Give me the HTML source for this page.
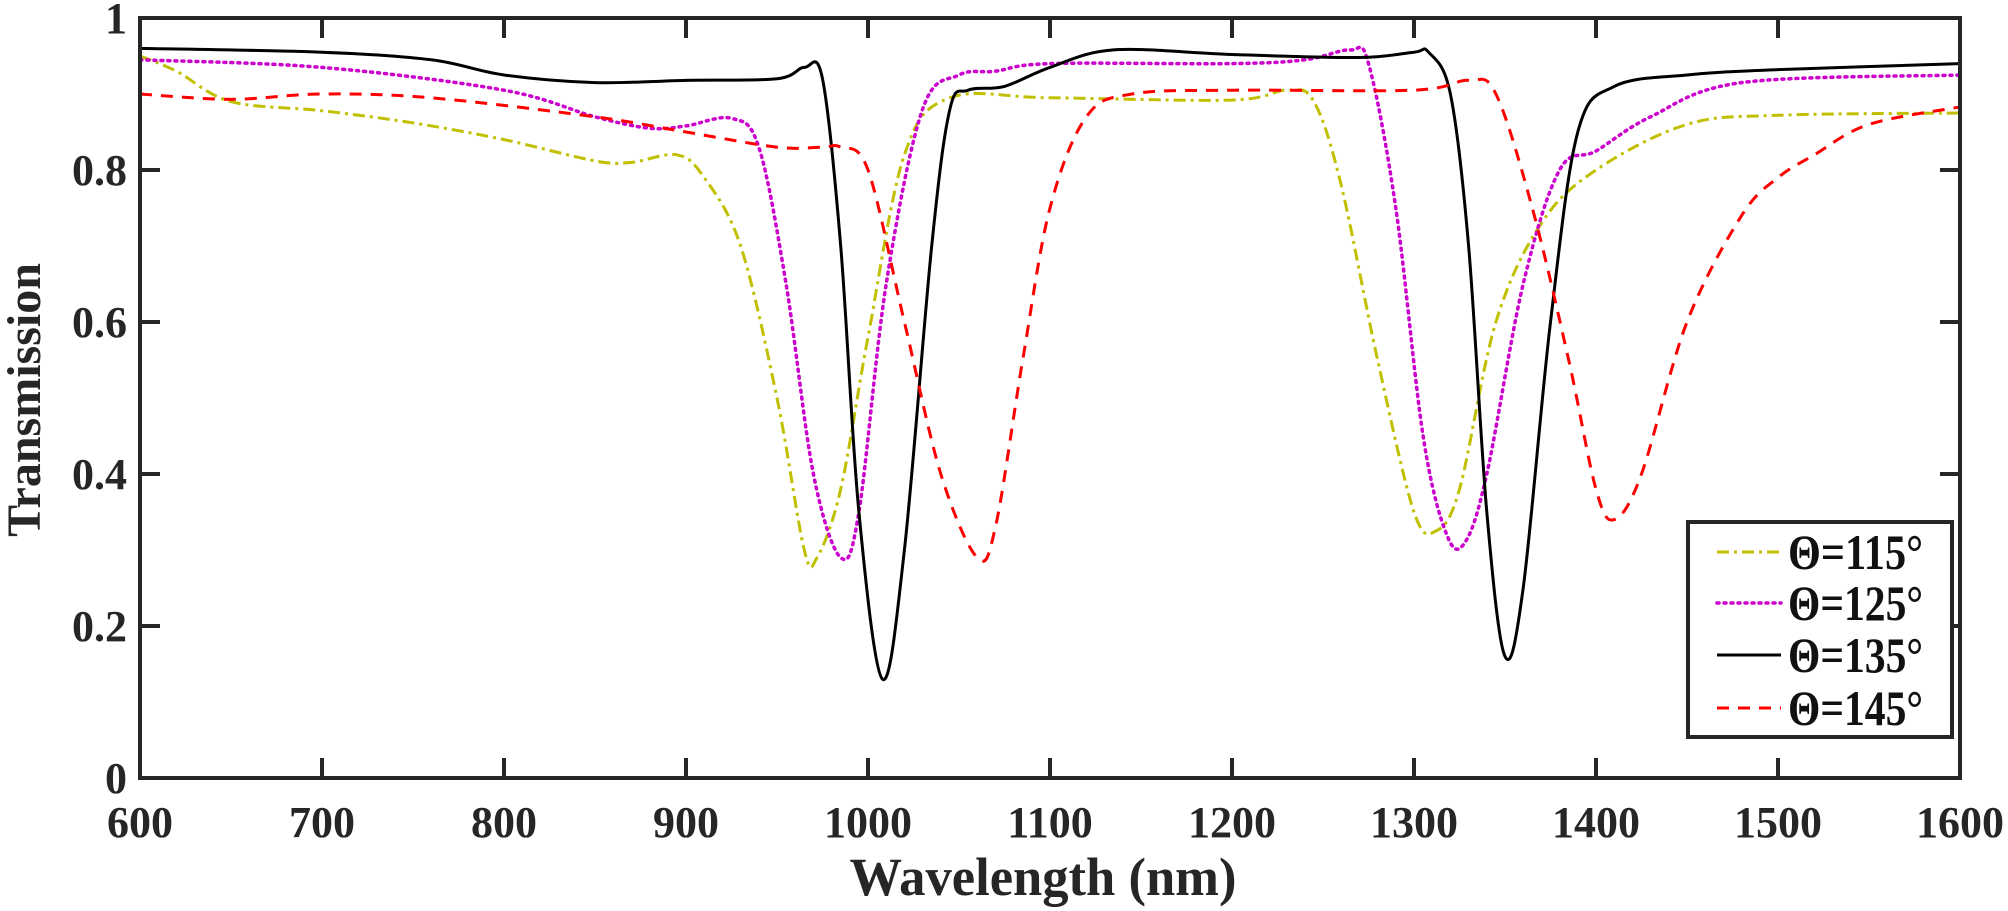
<!DOCTYPE html>
<html><head><meta charset="utf-8"><style>
html,body{margin:0;padding:0;background:#fff;}
svg{display:block;font-family:"Liberation Serif",serif;font-weight:bold;}
</style></head><body>
<svg id="s" width="2008" height="911" xmlns="http://www.w3.org/2000/svg">
<g id="curves" fill="none" stroke-linejoin="round"></g>
<rect x="140" y="18" width="1820" height="760" fill="none" stroke="#262626" stroke-width="4"/>
<g id="ticks" stroke="#262626" stroke-width="4"></g>
<g id="labels" fill="#262626" font-size="44"></g>
<text x="1043" y="895" font-size="54" text-anchor="middle" fill="#262626" textLength="387" lengthAdjust="spacingAndGlyphs">Wavelength (nm)</text>
<text transform="translate(40,400) rotate(-90)" font-size="48" text-anchor="middle" fill="#262626">Transmission</text>
<rect x="1688" y="522" width="264" height="215" fill="#fff" stroke="#262626" stroke-width="4"/>
<g font-size="50" fill="#111">
<line x1="1717" y1="552" x2="1781" y2="552" stroke="#c0c000" stroke-width="3" stroke-dasharray="12,5,3,5"/>
<text x="1788" y="569" textLength="135" lengthAdjust="spacingAndGlyphs">Θ=115°</text>
<line x1="1717" y1="603" x2="1781" y2="603" stroke="#cc00cc" stroke-width="3.5" stroke-dasharray="2,5" stroke-linecap="round"/>
<text x="1788" y="620" textLength="135" lengthAdjust="spacingAndGlyphs">Θ=125°</text>
<line x1="1717" y1="655" x2="1781" y2="655" stroke="#000" stroke-width="3"/>
<text x="1788" y="672" textLength="135" lengthAdjust="spacingAndGlyphs">Θ=135°</text>
<line x1="1717" y1="708" x2="1781" y2="708" stroke="#ff0000" stroke-width="3" stroke-dasharray="12,9"/>
<text x="1788" y="725" textLength="135" lengthAdjust="spacingAndGlyphs">Θ=145°</text>
</g>
</svg>
<script>
var NS="http://www.w3.org/2000/svg";
function X(l){return 140+(l-600)*1.82;}
function Y(t){return 778-t*760;}
var ticks=document.getElementById('ticks'),labels=document.getElementById('labels');
function el(p,tag,a,txt){var e=document.createElementNS(NS,tag);for(var k in a)e.setAttribute(k,a[k]);if(txt)e.textContent=txt;p.appendChild(e);}
for(var l=600;l<=1600;l+=100){var x=X(l);
 if(l>600&&l<1600){el(ticks,'line',{x1:x,y1:778,x2:x,y2:758});el(ticks,'line',{x1:x,y1:18,x2:x,y2:38});}
 el(labels,'text',{x:x,y:837,'text-anchor':'middle'},String(l));}
var yl=['0','0.2','0.4','0.6','0.8','1'];
for(var i=0;i<=5;i++){var y=Y(i*0.2);
 if(i>0&&i<5){el(ticks,'line',{x1:140,y1:y,x2:160,y2:y});el(ticks,'line',{x1:1960,y1:y,x2:1940,y2:y});}
 el(labels,'text',{x:127,y:y+15,'text-anchor':'end'},yl[i]);}
var data={
k:[[600,.96],[700,.955],[760,.945],[800,.925],[850,.915],[900,.918],[950,.92],[965,.935],[975,.92],[985,.7],[995,.35],[1008,.13],[1020,.3],[1035,.7],[1045,.88],[1055,.905],[1075,.91],[1100,.935],[1135,.958],[1200,.952],[1270,.948],[1300,.955],[1308,.955],[1320,.9],[1330,.7],[1340,.35],[1350,.16],[1360,.25],[1375,.6],[1390,.85],[1410,.91],[1450,.925],[1500,.932],[1600,.94]],
m:[[600,.945],[700,.935],[800,.905],[850,.87],[880,.855],[900,.858],[925,.868],[940,.83],[955,.65],[970,.4],[985,.29],[995,.35],[1010,.65],[1030,.88],[1050,.925],[1070,.93],[1100,.94],[1200,.94],[1240,.945],[1265,.958],[1275,.94],[1290,.75],[1305,.45],[1318,.32],[1328,.31],[1340,.4],[1360,.65],[1380,.8],[1400,.825],[1430,.87],[1480,.915],[1600,.925]],
y:[[600,.95],[620,.93],[650,.89],[700,.878],[750,.862],[800,.84],[850,.812],[870,.81],[895,.82],[910,.79],[930,.7],[950,.5],[965,.3],[972,.29],[985,.38],[1000,.58],[1020,.82],[1045,.895],[1100,.895],[1200,.892],[1230,.905],[1245,.89],[1260,.78],[1280,.55],[1300,.35],[1312,.325],[1325,.38],[1345,.6],[1370,.73],[1400,.8],[1450,.86],[1500,.872],[1600,.875]],
r:[[600,.9],[650,.893],[700,.9],[760,.895],[850,.87],[900,.85],[950,.83],[975,.83],[985,.83],[1000,.8],[1020,.6],[1040,.4],[1060,.29],[1070,.33],[1085,.55],[1100,.75],[1120,.87],[1145,.9],[1200,.905],[1300,.905],[1330,.918],[1345,.9],[1365,.75],[1385,.55],[1400,.38],[1410,.34],[1425,.4],[1450,.6],[1480,.74],[1500,.79],[1520,.82],[1550,.86],[1600,.883]]};
function path(pts){var p=pts.map(function(a){return [X(a[0]),Y(a[1])];});
 var d='M'+p[0][0]+','+p[0][1];
 for(var i=0;i<p.length-1;i++){var p0=p[i-1]||p[i],p1=p[i],p2=p[i+1],p3=p[i+2]||p2;
  d+=' C'+(p1[0]+(p2[0]-p0[0])/6)+','+(p1[1]+(p2[1]-p0[1])/6)+' '+(p2[0]-(p3[0]-p1[0])/6)+','+(p2[1]-(p3[1]-p1[1])/6)+' '+p2[0]+','+p2[1];}
 return d;}
var g=document.getElementById('curves');
el(g,'path',{d:path(data.y),stroke:'#c0c000','stroke-width':3,'stroke-dasharray':'12,5,3,5'});
el(g,'path',{d:path(data.m),stroke:'#cc00cc','stroke-width':3.5,'stroke-dasharray':'2,5','stroke-linecap':'round'});
el(g,'path',{d:path(data.k),stroke:'#000','stroke-width':3});
el(g,'path',{d:path(data.r),stroke:'#ff0000','stroke-width':3,'stroke-dasharray':'12,9'});
</script>
</body></html>
